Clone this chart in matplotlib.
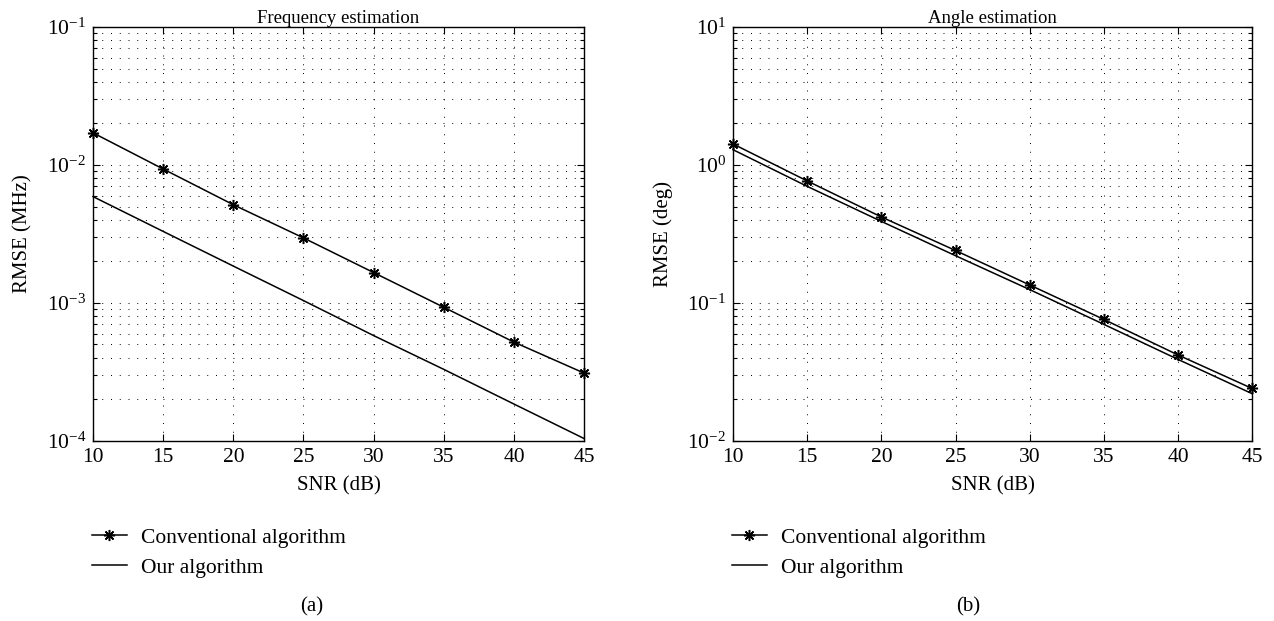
import matplotlib
matplotlib.use("Agg")
import matplotlib.pyplot as plt
from matplotlib.ticker import LogLocator, NullFormatter
import numpy as np

plt.rcParams['font.family'] = ['Liberation Serif', 'DejaVu Serif']
plt.rcParams['mathtext.fontset'] = 'stix'
plt.rcParams['font.size'] = 15

# data
snr = [10, 15, 20, 25, 30, 35, 40, 45]
freq_conv = [0.0171, 0.00935, 0.00515, 0.00296, 0.00166, 0.00093, 0.00052, 0.00031]
freq_ours = [0.0059, 0.0033, 0.00185, 0.00104, 0.00058, 0.00033, 0.000185, 0.000104]
angle_conv = [1.42, 0.766, 0.42, 0.24, 0.135, 0.076, 0.042, 0.024]
angle_ours = [1.29, 0.70, 0.39, 0.22, 0.125, 0.070, 0.039, 0.022]

titles = ["Frequency estimation", "Angle estimation"]
ylabels = ["RMSE (MHz)", "RMSE (deg)"]
ylims = [(1e-4, 1e-1), (1e-2, 1e1)]
captions = ["(a)", "(b)"]
legend_labels = ["Conventional algorithm", "Our algorithm"]

fig = plt.figure(figsize=(12.74, 6.21), dpi=100)
ax1 = fig.add_axes([0.073, 0.29, 0.3855, 0.6665])
ax2 = fig.add_axes([0.5754, 0.29, 0.4074, 0.6665])

dots = (0, (1, 8))
star = (8, 2, 0)

for i, (ax, conv, ours) in enumerate([(ax1, freq_conv, freq_ours), (ax2, angle_conv, angle_ours)]):
    ax.semilogy(snr, conv, color='black', lw=1.1, marker=star, ms=8, mew=1.1,
                label=legend_labels[0], clip_on=False, zorder=3)
    ax.semilogy(snr, ours, color='black', lw=1.1, label=legend_labels[1],
                clip_on=False, zorder=3)
    ax.set_xlim(10, 45)
    ax.set_ylim(*ylims[i])
    ax.set_xticks(snr)
    ax.yaxis.set_major_locator(LogLocator(base=10, numticks=10))
    ax.yaxis.set_minor_locator(LogLocator(base=10, subs=np.arange(2, 10), numticks=20))
    ax.yaxis.set_minor_formatter(NullFormatter())
    ax.grid(True, which='major', color='black', lw=0.7, ls=dots)
    ax.grid(True, which='minor', axis='y', color='black', lw=0.7, ls=dots)
    ax.tick_params(which='both', direction='in', top=True, right=True, width=0.8)
    ax.tick_params(which='major', length=5, labelsize=15.5, pad=5)
    ax.tick_params(which='minor', length=3)
    for s in ax.spines.values():
        s.set_linewidth(1.0)
    ax.set_title(titles[i], fontsize=13.5, pad=2)
    ax.set_xlabel("SNR (dB)", fontsize=15, labelpad=7)
    ax.set_ylabel(ylabels[i], fontsize=15, labelpad=10)
    ax.legend(loc='upper left', bbox_to_anchor=(-0.003, -0.21), frameon=False,
              fontsize=15.5, handlelength=1.65, handletextpad=0.65, labelspacing=0.45,
              borderaxespad=0, borderpad=0)

fig.text(0.245, 0.016, captions[0], ha='center', fontsize=15)
fig.text(0.76, 0.016, captions[1], ha='center', fontsize=15)

fig.savefig("out.png", dpi=100)
